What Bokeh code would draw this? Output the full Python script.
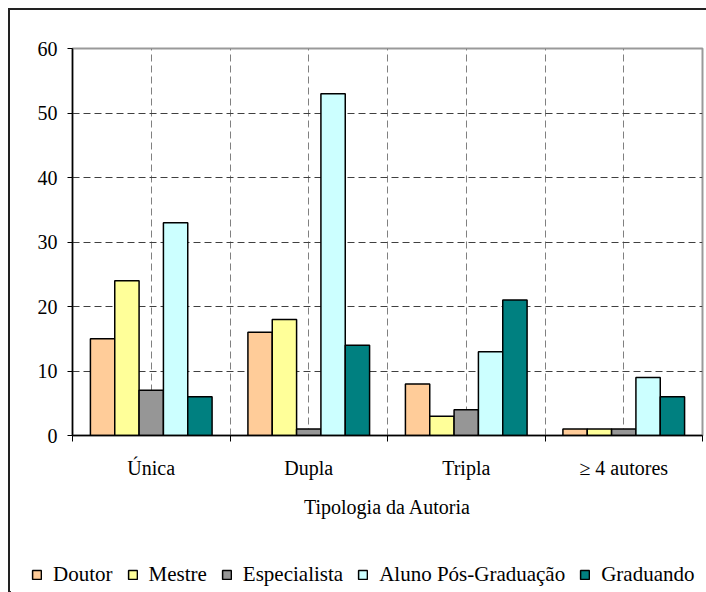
from bokeh.plotting import figure
from bokeh.models import (Range1d, FixedTicker, ColumnDataSource, Legend)
from bokeh.layouts import column
from bokeh.transform import dodge
from bokeh.embed import file_html
from bokeh.resources import INLINE

categories = ["Única", "Dupla", "Tripla", "≥ 4 autores"]
series_names = ["Doutor", "Mestre", "Especialista", "Aluno Pós-Graduação", "Graduando"]
doutor = [15, 16, 8, 1]
mestre = [24, 18, 3, 1]
especialista = [7, 1, 4, 1]
aluno_pos = [33, 53, 13, 9]
graduando = [6, 14, 21, 6]
colors = ["#FFCC99", "#FFFF99", "#969696", "#CCFFFF", "#008080"]
y_ticks = [0, 10, 20, 30, 40, 50, 60]

FONT = "Liberation Serif"

n = len(categories)
centers = [i + 0.5 for i in range(n)]
source = ColumnDataSource(dict(x=centers, Doutor=doutor, Mestre=mestre,
                               Especialista=especialista,
                               Aluno=aluno_pos, Graduando=graduando))
cols = ["Doutor", "Mestre", "Especialista", "Aluno", "Graduando"]

p = figure(width=696, height=530, output_backend="svg", toolbar_location=None,
           x_range=Range1d(0, n), y_range=Range1d(0, 60),
           min_border_left=62, min_border_right=4, min_border_top=38,
           min_border_bottom=105)
p.frame_align = False
p.outline_line_color = "#999999"
p.outline_line_width = 2
p.background_fill_color = "white"
p.border_fill_color = "white"

# y axis
yax = p.yaxis[0]
yax.ticker = FixedTicker(ticks=y_ticks)
yax.major_label_text_font = FONT
yax.major_label_text_font_size = "20px"
yax.major_label_text_color = "black"
yax.major_tick_out = 5
yax.major_tick_in = 0
yax.minor_tick_line_color = None
yax.axis_line_color = "black"
yax.axis_line_width = 1.5
yax.major_tick_line_color = "black"
yax.major_label_standoff = 10

# x axis: boundary ticks (minor) and centred category labels (major)
xax = p.xaxis[0]
xax.ticker = FixedTicker(ticks=centers, minor_ticks=list(range(n + 1)))
xax.major_label_overrides = {c: lab for c, lab in zip(centers, categories)}
xax.major_tick_line_color = None
xax.major_tick_out = 0
xax.major_tick_in = 0
xax.minor_tick_out = 6
xax.minor_tick_in = 0
xax.minor_tick_line_color = "black"
xax.axis_line_color = "black"
xax.axis_line_width = 1.5
xax.major_label_text_font = FONT
xax.major_label_text_font_size = "20px"
xax.major_label_text_color = "black"
xax.major_label_standoff = 15
xax.axis_label = "Tipologia da Autoria"
xax.axis_label_text_font = FONT
xax.axis_label_text_font_size = "20px"
xax.axis_label_text_font_style = "normal"
xax.axis_label_text_color = "black"
xax.axis_label_standoff = 14

# grids
p.ygrid.ticker = FixedTicker(ticks=y_ticks[1:-1])
p.ygrid.grid_line_color = "#404040"
p.ygrid.grid_line_dash = "7 4"
p.xgrid.ticker = FixedTicker(ticks=[i * 0.5 for i in range(1, 2 * n)])
p.xgrid.grid_line_color = "#808080"
p.xgrid.grid_line_dash = "7 4"

# bars
bw = 0.1545
for j, (col, color) in enumerate(zip(cols, colors)):
    p.vbar(x=dodge("x", (j - 2) * bw), top=col, width=bw,
           source=source, fill_color=color, line_color="black", line_width=1.5)

# legend strip (its renderers share the data but lie outside its view)
pl = figure(width=696, height=52, output_backend="svg", toolbar_location=None,
            x_axis_location=None, y_axis_location=None, min_border=0,
            x_range=Range1d(100, 101), y_range=Range1d(100, 101))
pl.frame_align = False
pl.outline_line_color = None
pl.grid.visible = False
items = []
for j, (col, name, color) in enumerate(zip(cols, series_names, colors)):
    r = pl.vbar(x=dodge("x", (j - 2) * bw), top=col, width=bw, source=source,
                fill_color=color, line_color="black", line_width=1.5)
    items.append((name, [r]))
legend = Legend(items=items, orientation="horizontal", location=(21, 5))
legend.label_text_font = FONT
legend.label_text_font_size = "21px"
legend.label_text_color = "black"
legend.glyph_width = 11
legend.glyph_height = 11
legend.label_standoff = 11
legend.spacing = 14
legend.padding = 0
legend.margin = 0
legend.border_line_color = None
legend.background_fill_alpha = 0
pl.add_layout(legend, "center")

layout = column(p, pl, spacing=0)
layout.styles = {"margin-left": "8px", "margin-top": "8px",
                 "border-left": "2px solid #222222", "border-top": "2px solid #222222"}

open("out.html", "w").write(file_html(layout, INLINE))
